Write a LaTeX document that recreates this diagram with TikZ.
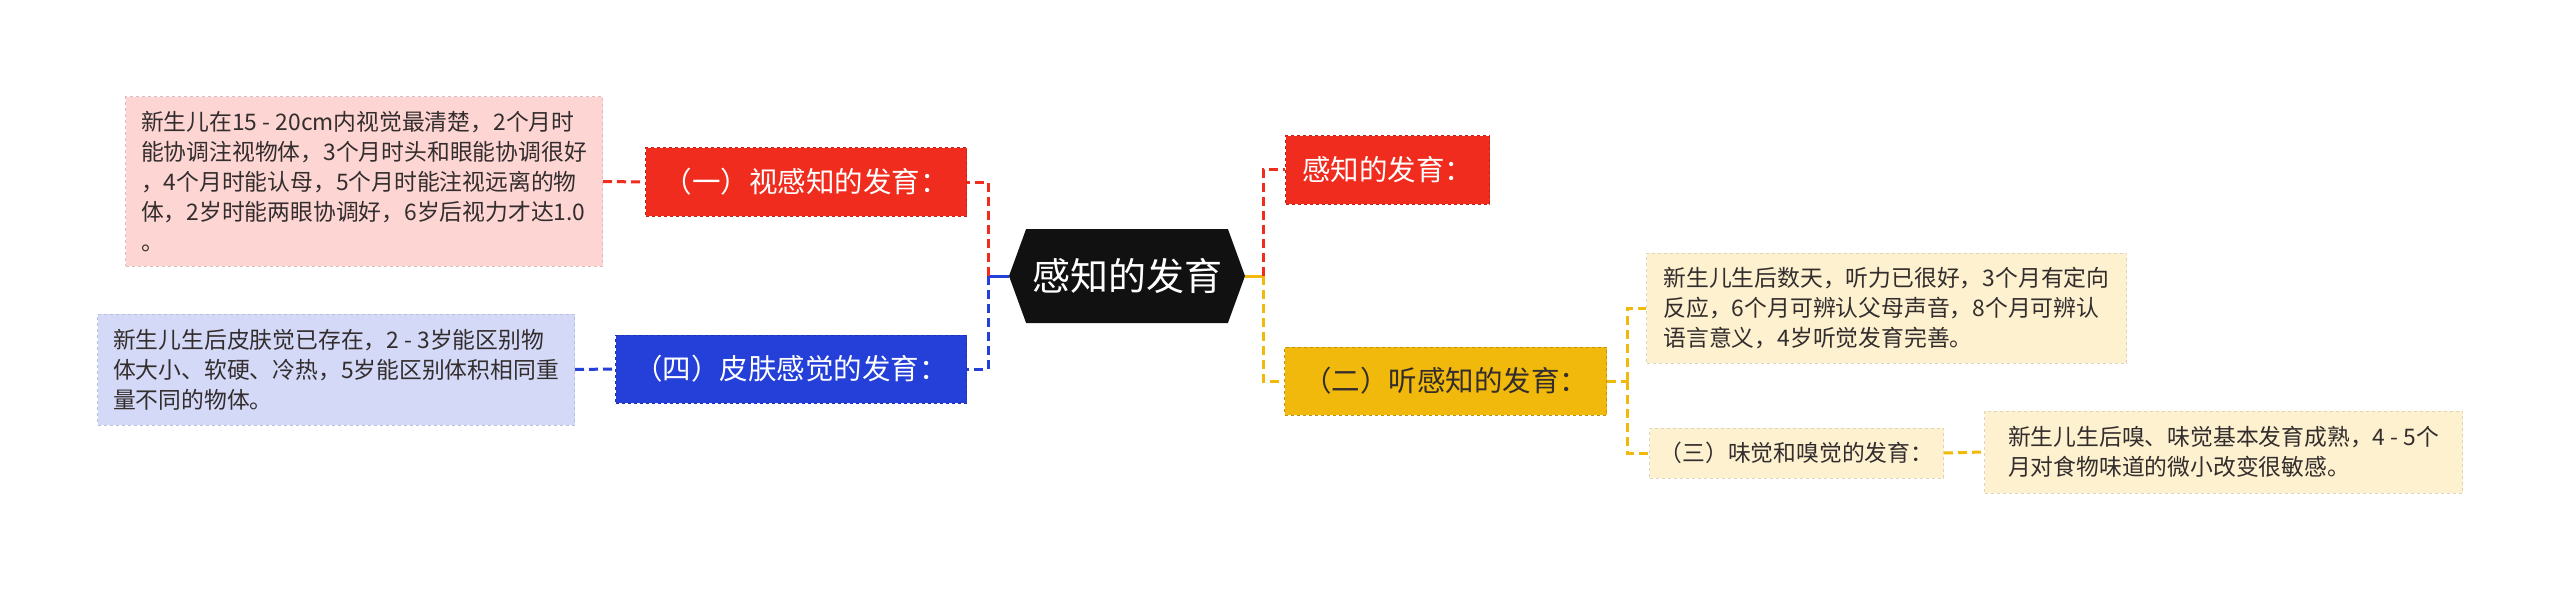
\documentclass[tikz,border=0pt]{standalone}
\usepackage{fontspec}
\setmainfont{Noto Sans CJK SC}
\usetikzlibrary{shapes.symbols}
\definecolor{mmred}{RGB}{240,44,30}
\definecolor{mmblue}{RGB}{36,64,216}
\definecolor{mmyellow}{RGB}{240,185,11}
\definecolor{mmpink}{RGB}{253,214,212}
\definecolor{mmlav}{RGB}{211,217,247}
\definecolor{mmcream}{RGB}{253,241,208}
\definecolor{hubblack}{RGB}{17,17,17}
\definecolor{txtdark}{RGB}{51,45,45}
\newcommand{\leaffont}{\fontsize{22.8}{30}\selectfont}

\begin{document}
\begin{tikzpicture}[x=1pt,y=-1pt,
  hub/.style={signal,signal to=west and east,signal pointer angle=140,fill=hubblack,text=white,
    font=\fontsize{38}{42}\selectfont,minimum width=236pt,minimum height=94pt,inner sep=0pt},
  topic/.style={fill=#1,draw=#1!80!black,dashed,line width=1pt,text=white,
    font=\fontsize{28.5}{34}\selectfont,minimum height=68pt,inner xsep=0pt},
  leaf/.style={fill=#1,draw=#1!88!black,dashed,line width=1pt,text=txtdark,font=\leaffont,
    align=left,inner xsep=14pt,inner ysep=10pt},
  conn/.style={line width=3pt,dash pattern=on 9pt off 5pt},
  stub/.style={line width=3pt}]
\fill[white] (0,0) rectangle (2560,591);
\useasboundingbox (0,0) rectangle (2560,591);
% centre
\node[hub] (hub) at (1127,276) {感知的发育};
\coordinate (lspine) at (988,276);
\coordinate (rspine) at (1263,276);
% left branches
\node[topic=mmred,minimum width=321pt,anchor=east] (vis) at (967,182) {（一）视感知的发育：};
\node[topic=mmblue,minimum width=351pt,anchor=east] (skin) at (967,369) {（四）皮肤感觉的发育：};
\node[leaf=mmpink,minimum width=477pt,minimum height=169pt,anchor=east] (visleaf) at (603,181.5)
  {新生儿在15 - 20cm内视觉最清楚，2个月时\\能协调注视物体，3个月时头和眼能协调很好\\，4个月时能认母，5个月时能注视远离的物\\体，2岁时能两眼协调好，6岁后视力才达1.0\\。};
\node[leaf=mmlav,minimum width=477pt,minimum height=111pt,anchor=east] (skinleaf) at (575,369.5)
  {新生儿生后皮肤觉已存在，2 - 3岁能区别物\\体大小、软硬、冷热，5岁能区别体积相同重\\量不同的物体。};
% right branches
\node[topic=mmred,minimum width=204pt,anchor=west] (gen) at (1285,170) {感知的发育：};
\node[topic=mmyellow,text=txtdark,minimum width=322pt,anchor=west] (hear) at (1284,381) {（二）听感知的发育：};
\coordinate (hspine) at (1627,381);
\node[leaf=mmcream,minimum width=480pt,minimum height=110pt,anchor=west] (hearleaf) at (1646,308)
  {新生儿生后数天，听力已很好，3个月有定向\\反应，6个月可辨认父母声音，8个月可辨认\\语言意义，4岁听觉发育完善。};
\node[leaf=mmcream,inner xsep=0pt,minimum width=294pt,minimum height=50pt,anchor=west] (taste) at (1649,453)
  {（三）味觉和嗅觉的发育：};
\node[leaf=mmcream,minimum width=478pt,minimum height=82pt,anchor=west] (tasteleaf) at (1984,452)
  {新生儿生后嗅、味觉基本发育成熟，4 - 5个\\月对食物味道的微小改变很敏感。};
% connectors
\draw[stub,mmblue] (hub.west) -- (lspine);
\draw[conn,mmred] (lspine) |- (vis.east);
\draw[conn,mmblue] (lspine) |- (skin.east);
\draw[conn,mmred] (visleaf.east) -- (vis.west);
\draw[conn,mmblue] (skinleaf.east) -- (skin.west);
\draw[stub,mmyellow] (hub.east) -- (rspine);
\draw[conn,mmred] (rspine) |- (gen.west);
\draw[conn,mmyellow] (rspine) |- (hear.west);
\draw[conn,mmyellow] (hear.east) -- (hspine);
\draw[conn,mmyellow] (hspine) |- (hearleaf.west);
\draw[conn,mmyellow] (hspine) |- (taste.west);
\draw[conn,mmyellow] (taste.east) -- (tasteleaf.west);
\end{tikzpicture}
\end{document}
